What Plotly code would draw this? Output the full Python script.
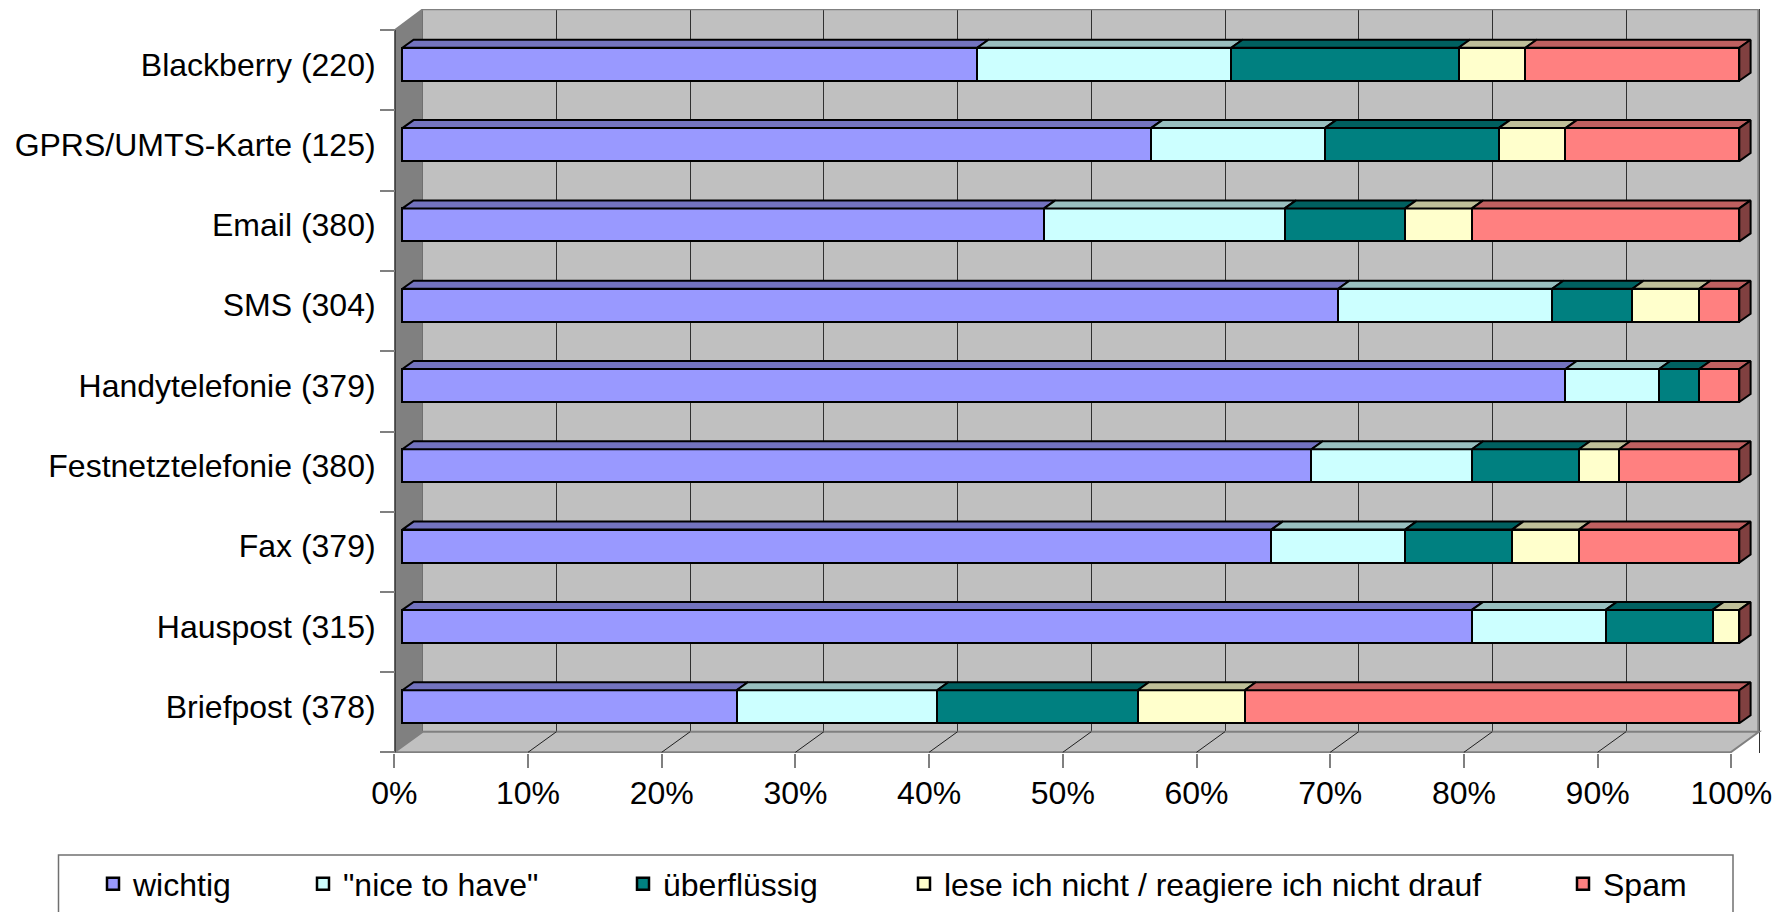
import plotly.graph_objects as go

# ---------------- data ----------------
categories = ["Blackberry (220)", "GPRS/UMTS-Karte (125)", "Email (380)", "SMS (304)",
              "Handytelefonie (379)", "Festnetztelefonie (380)", "Fax (379)",
              "Hauspost (315)", "Briefpost (378)"]
series_names = ["wichtig", "\"nice to have\"", "überflüssig",
                "lese ich nicht / reagiere ich nicht drauf", "Spam"]
wichtig = [43, 56, 48, 70, 87, 68, 65, 80, 25]
nice_to_have = [19, 13, 18, 16, 7, 12, 10, 10, 15]
ueberfluessig = [17, 13, 9, 6, 3, 8, 8, 8, 15]
lese_nicht = [5, 5, 5, 5, 0, 3, 5, 2, 8]
spam = [16, 13, 20, 3, 3, 9, 12, 0, 37]
x_ticks = [0, 10, 20, 30, 40, 50, 60, 70, 80, 90, 100]
x_tick_labels = [f"{v}%" for v in x_ticks]

# ---------------- style ----------------
face_colors = ["#9999FF", "#CCFFFF", "#008080", "#FFFFCC", "#FF8080"]
top_colors = ["#7373BF", "#99BFBF", "#006060", "#BFBF99", "#BF6060"]
end_color = "#804040"
FONT = "Arial, Liberation Sans, sans-serif"
FS = 32

OFF = 8                    # default body margin of the html page
W, H = 1782 - OFF, 912 - OFF
# plot area in page pixels
PL, PR, PT, PB = 380, 1762, 9, 753
AXIS_X = 395               # page x of the front/left axis
X0, SX = 402.3, 13.37      # bar front plane: page px of 0 %, px per %
Y0, SY = 64.3, 80.3        # page px of first category centre, px per category
DXP, DYP = 11.3, 8.0       # depth of the bars (pixels)


def dx(px):
    return (px - X0) / SX


def dy(py):
    return (py - Y0) / SY


def ppx(px):
    return (px - PL) / (PR - PL)


def ppy(py):
    return (PB - py) / (PB - PT)


xr = [dx(PL), dx(PR)]
yr = [dy(PB), dy(PT)]
off_floor = dx(394.3)      # floor front edge plane offset (in %)
off_back = dx(422.8)       # back wall plane offset (in %)

n = len(categories)
positions = list(range(n))
bar_w = 33 / SY
DX = DXP / SX
DY = DYP / SY

series_values = [wichtig, nice_to_have, ueberfluessig, lese_nicht, spam]
legend_ids = ["legend", "legend2", "legend3", "legend4", "legend5"]

fig = go.Figure()

# front faces (stacked bars)
for name, vals, fc, leg in zip(series_names, series_values, face_colors, legend_ids):
    fig.add_trace(go.Bar(
        y=positions, x=[v if v > 0 else None for v in vals], orientation="h",
        name=name, width=bar_w, legend=leg,
        marker=dict(color=fc, line=dict(color="black", width=2.5)),
        hovertemplate="%{y}: %{x}%<extra>" + name + "</extra>",
    ))

# top faces
cum = [0.0] * n
for name, vals, tc in zip(series_names, series_values, top_colors):
    xs, ys = [], []
    for k in range(n):
        v = vals[k]
        x0, x1 = cum[k], cum[k] + v
        cum[k] = x1
        if v <= 0:
            continue
        yt = positions[k] - bar_w / 2
        xs += [x0, x1, x1 + DX, x0 + DX, x0, None]
        ys += [yt, yt, yt - DY, yt - DY, yt, None]
    fig.add_trace(go.Scatter(x=xs, y=ys, mode="lines", fill="toself", fillcolor=tc,
                             line=dict(color="black", width=2), showlegend=False,
                             hoverinfo="skip"))

# end faces (right side of each bar)
xs, ys = [], []
for k in range(n):
    xe = cum[k]
    yt = positions[k] - bar_w / 2
    yb = positions[k] + bar_w / 2
    xs += [xe, xe + DX, xe + DX, xe, xe, None]
    ys += [yt, yt - DY, yb - DY, yb, yt, None]
fig.add_trace(go.Scatter(x=xs, y=ys, mode="lines", fill="toself", fillcolor=end_color,
                         line=dict(color="black", width=2), showlegend=False,
                         hoverinfo="skip"))


# ---------------- walls / floor ----------------
def path(pts):
    return "M " + " L ".join(f"{dx(px):.4f},{dy(py):.4f}" for px, py in pts) + " Z"


shapes = []
shapes.append(dict(type="rect", xref="x", yref="y", x0=dx(422.8), x1=dx(1758.3),
                   y0=dy(9.3), y1=dy(731.7), fillcolor="#C0C0C0", line=dict(width=0),
                   layer="below"))
# white cover left of the axis (grid lines must not show there)
shapes.append(dict(type="rect", xref="x", yref="y", x0=dx(PL), x1=dx(AXIS_X),
                   y0=dy(PT), y1=dy(PB), fillcolor="white", line=dict(width=0),
                   layer="between"))
# left wall
shapes.append(dict(type="path", xref="x", yref="y",
                   path=path([(395, 30), (422.8, 9.3), (422.8, 731.7), (395, 752.3)]),
                   fillcolor="#808080", line=dict(width=0), layer="between"))
# floor
shapes.append(dict(type="path", xref="x", yref="y",
                   path=path([(394.3, 752.3), (422.8, 731.7), (1759.0, 731.7), (1730.7, 752.3)]),
                   fillcolor="#C0C0C0", line=dict(color="#808080", width=2), layer="between"))
# floor grid lines
for v in x_ticks[1:-1]:
    shapes.append(dict(type="line", xref="x", yref="y",
                       x0=dx(422.8) + v, y0=dy(731.7), x1=dx(394.3) + v, y1=dy(752.3),
                       line=dict(color="#202020", width=1), layer="between"))
# wall edges
edge = dict(color="#808080", width=2)
shapes.append(dict(type="line", xref="x", yref="y", x0=dx(422.8), y0=dy(9.3),
                   x1=dx(1758.3), y1=dy(9.3), line=edge, layer="between"))
shapes.append(dict(type="line", xref="x", yref="y", x0=dx(1758.3), y0=dy(9.3),
                   x1=dx(1758.3), y1=dy(731.7), line=edge, layer="between"))
shapes.append(dict(type="line", xref="x", yref="y", x0=dx(395), y0=dy(30),
                   x1=dx(422.8), y1=dy(9.3), line=edge, layer="between"))
shapes.append(dict(type="line", xref="x", yref="y", x0=dx(395), y0=dy(30),
                   x1=dx(395), y1=dy(752.3), line=dict(color="#303030", width=1.5),
                   layer="between"))

# legend frame
shapes.append(dict(type="rect", xref="paper", yref="paper", x0=ppx(58.5), x1=ppx(1733),
                   y0=ppy(915), y1=ppy(855), line=dict(color="#707070", width=1.5),
                   fillcolor="rgba(0,0,0,0)", layer="above"))

# ---------------- layout ----------------
legend_centres = [115, 325, 645, 926, 1585]
layout_legends = {}
for leg, cx in zip(legend_ids, legend_centres):
    layout_legends[leg] = dict(x=ppx(cx - 22), y=ppy(884), xanchor="left", yanchor="middle",
                               bgcolor="rgba(0,0,0,0)", borderwidth=0,
                               font=dict(family=FONT, size=FS, color="black"))

minor_vals = [dy(min(30 + SY * k, PB - 0.6)) for k in range(n + 1)]

fig.update_layout(
    width=W, height=H,
    margin=dict(l=PL - OFF, r=1782 - PR, t=PT - OFF, b=912 - PB, pad=0),
    paper_bgcolor="white", plot_bgcolor="white",
    barmode="stack", bargap=0,
    font=dict(family=FONT, size=FS, color="black"),
    showlegend=True,
    shapes=shapes,
    xaxis=dict(range=xr, showticklabels=False, ticks="", showgrid=False, zeroline=False,
               showline=False, automargin=False, fixedrange=True),
    xaxis2=dict(range=[xr[0] - off_floor, xr[1] - off_floor], overlaying="x", anchor="y",
                side="bottom", tickmode="array", tickvals=x_ticks, ticktext=x_tick_labels,
                ticks="outside", ticklen=14, tickwidth=1.5, tickcolor="#808080",
                ticklabelstandoff=-2,
                showgrid=False, zeroline=False, showline=False, automargin=False,
                tickfont=dict(family=FONT, size=FS, color="black")),
    xaxis3=dict(range=[xr[0] - off_back, xr[1] - off_back], overlaying="x", anchor="y",
                side="bottom", tickmode="array", tickvals=x_ticks, showticklabels=False,
                ticks="", showgrid=True, gridcolor="#303030", gridwidth=1,
                zeroline=False, showline=False, automargin=False),
    yaxis=dict(range=yr, anchor="free", position=ppx(AXIS_X),
               tickmode="array", tickvals=positions, ticktext=categories,
               ticks="outside", ticklen=15, tickcolor="rgba(0,0,0,0)",
               ticklabelstandoff=-2,
               minor=dict(tickmode="array", tickvals=minor_vals, ticks="outside",
                          ticklen=15, tickwidth=1.5, tickcolor="#808080", showgrid=False),
               showgrid=False, zeroline=False, showline=False, automargin=False,
               tickfont=dict(family=FONT, size=FS, color="black")),
    **layout_legends,
)

# put the tick/grid axes to use so they are drawn
fig.add_trace(go.Scatter(x=[None], y=[None], xaxis="x2", yaxis="y", showlegend=False,
                         hoverinfo="skip"))
fig.add_trace(go.Scatter(x=[None], y=[None], xaxis="x3", yaxis="y", showlegend=False,
                         hoverinfo="skip"))

fig.write_html("out.html")
